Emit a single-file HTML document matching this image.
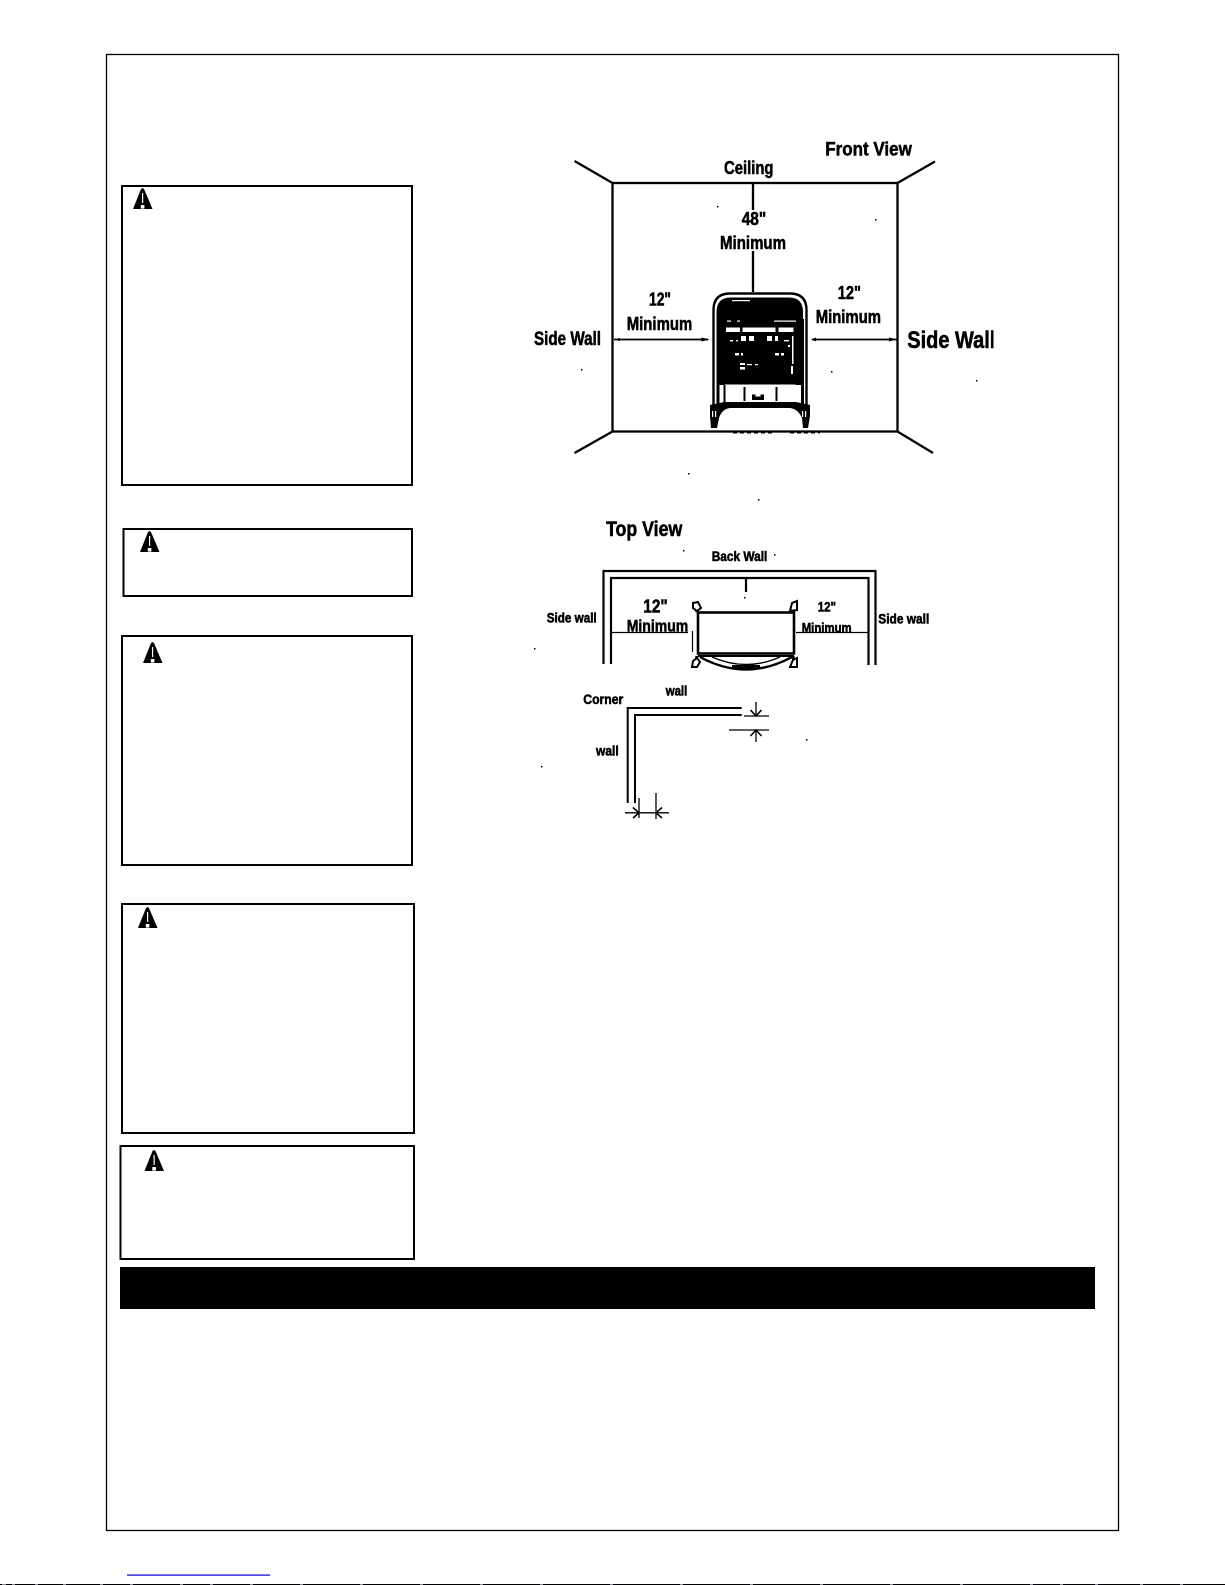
<!DOCTYPE html>
<html><head><meta charset="utf-8">
<style>
html,body{margin:0;padding:0;background:#fff;width:1225px;height:1585px;overflow:hidden}
svg{display:block}
text{font-family:"Liberation Sans",sans-serif;font-weight:bold;fill:#000;stroke:#000;stroke-width:.55px}
</style></head><body>
<svg xmlns="http://www.w3.org/2000/svg" width="1225" height="1585" viewBox="0 0 1225 1585">
<defs>
<clipPath id="cr"><rect x="900" y="320" width="93.5" height="40"/></clipPath>
<g id="warn"><path d="M9.5 0 L11 1 L19.5 21 L0 21 L8 1 Z" fill="#000"/><path d="M9 5 L10.200 5 L10.200 15 L9 15 Z" fill="#fff"/><rect x="7.800" y="17" width="3.600" height="3.600" fill="#fff"/></g>
</defs>
<rect width="1225" height="1585" fill="#fff"/>

<!-- page frame -->
<rect x="106.500" y="54.500" width="1012" height="1476" fill="none" stroke="#000" stroke-width="1.300"/>

<!-- warning boxes -->
<g fill="none" stroke="#000" stroke-width="2">
<rect x="122" y="186" width="290" height="299"/>
<rect x="123.500" y="529" width="288.500" height="67"/>
<rect x="122" y="636" width="290" height="229"/>
<rect x="122" y="904" width="292" height="229"/>
<rect x="120.500" y="1146" width="293.500" height="113"/>
</g>
<use href="#warn" x="133" y="188"/>
<use href="#warn" x="140" y="531"/>
<use href="#warn" x="143" y="642"/>
<use href="#warn" x="138" y="907"/>
<use href="#warn" x="144.500" y="1150"/>

<!-- black bar -->
<rect x="120" y="1267" width="975" height="42" fill="#000"/>

<!-- FRONT VIEW room -->
<g stroke="#000" fill="none" stroke-width="2.300">
<rect x="612.500" y="183" width="285" height="248.500"/>
<path d="M574.500 161 L612.500 183 M935 161.500 L897.500 183 M574.500 453 L612.500 431.500 M933 453 L897.500 431.500"/>
<path d="M753 183 V210 M753 251 V292"/>
<path d="M614 339.500 H708 M812 339.500 H897" stroke-width="1.800"/>
</g>
<path d="M614 339.500 l6 -1.500 v3z M709.500 339.500 l-8 -2 v4z M811 339.500 l5 -2 v4z M897 339.500 l-8 -2 v4z" fill="#000"/>
<text x="825.300" y="155.300" font-size="19.500" textLength="86.500" lengthAdjust="spacingAndGlyphs">Front View</text>
<text x="724" y="174" font-size="18.500" textLength="49.500" lengthAdjust="spacingAndGlyphs">Ceiling</text>
<text x="741.700" y="225" font-size="18" textLength="24.500" lengthAdjust="spacingAndGlyphs">48"</text>
<text x="720" y="249" font-size="18.500" textLength="66" lengthAdjust="spacingAndGlyphs">Minimum</text>
<text x="649" y="305.700" font-size="18" textLength="22" lengthAdjust="spacingAndGlyphs">12"</text>
<text x="626.700" y="330" font-size="18.500" textLength="65.600" lengthAdjust="spacingAndGlyphs">Minimum</text>
<text x="837.700" y="299" font-size="18" textLength="23.300" lengthAdjust="spacingAndGlyphs">12"</text>
<text x="815.700" y="323" font-size="18.500" textLength="65.300" lengthAdjust="spacingAndGlyphs">Minimum</text>
<text x="534" y="345" font-size="19" textLength="67" lengthAdjust="spacingAndGlyphs">Side Wall</text>
<g clip-path="url(#cr)"><text x="907.300" y="348" font-size="24" textLength="88" lengthAdjust="spacingAndGlyphs">Side Wall</text></g>

<!-- stove front -->
<g>
<path d="M713.500 412 V310 Q713.500 293.500 730 293.500 H790 Q806.500 293.500 806.500 310 V412" fill="#fff" stroke="#000" stroke-width="2.400"/>
<path d="M716.500 312 Q716.500 297.500 731 297.500 H789 Q803 297.500 803 312 V385 H716.500 Z" fill="#000"/>
<path d="M718 319 V404 M802.500 319 V404" stroke="#000" stroke-width="3" fill="none"/>
<path d="M719 312 V404 M801 312 V404" stroke="none"/>
<!-- control details -->
<g fill="#fff">
<rect x="726" y="327.500" width="14" height="4.500"/><rect x="742.500" y="327.500" width="33" height="4.500"/><rect x="778.500" y="327.500" width="15" height="4.500"/>
<rect x="732" y="300" width="18" height="1.200"/><rect x="727" y="320.500" width="4" height="1.200"/><rect x="737" y="320.500" width="3" height="1.200"/><rect x="774" y="320.500" width="22" height="1.200"/>
<rect x="730" y="340" width="3" height="1.400"/><rect x="736" y="340" width="2" height="1.400"/><rect x="741" y="336" width="5" height="5"/><rect x="749" y="336" width="5" height="5"/><rect x="767" y="336" width="5" height="5"/><rect x="775" y="336" width="3" height="5"/><rect x="784" y="340" width="5" height="1.400"/><rect x="792" y="336" width="1.500" height="28"/>
<rect x="735" y="353" width="4" height="2.500"/><rect x="741" y="353" width="2" height="2.500"/><rect x="775" y="353" width="4" height="2.500"/><rect x="781" y="353" width="3" height="2.500"/><rect x="788" y="345" width="2" height="2"/>
<rect x="740" y="363" width="5" height="2"/><rect x="740" y="367" width="5" height="2.500"/><rect x="747" y="364" width="5" height="1.200"/><rect x="755" y="364" width="3" height="1.200"/><rect x="791" y="366" width="2" height="8"/>
<rect x="724.500" y="384.500" width="71" height="2"/>
<rect x="725" y="387.500" width="18.500" height="15"/><rect x="745" y="388.500" width="31" height="11"/><rect x="777.500" y="387.500" width="18.500" height="13.500"/>
</g>
<path d="M723.500 385 h2 v18 h-2z M743.500 387 h2 v14 h-2z M775.500 387 h2 v14 h-2z" fill="#000"/>
<path d="M752 400 V394.500 h3.500 v2 h5 v-2 h3.500 v5.500z" fill="#000"/>
<!-- base and legs -->
<path d="M710 405 L724 402 H796 L810 405 V416 L808 428 H803 L802 418 Q798 409 790 408 H730 Q722 409 719 418 L717 428 H711 L710 416 Z" fill="#000"/>
<path d="M712 411 h1.200 v6 h-1.200z M715 411 h1.200 v6 h-1.200z M802 411 h1.200 v6 h-1.200z M805 411 h1.200 v6 h-1.200z" fill="#fff"/>
<path d="M733 433 h40 M790 433 h30" stroke="#000" stroke-width="1" stroke-dasharray="4 3"/>
</g>

<!-- TOP VIEW -->
<g fill="none" stroke="#000" stroke-width="2.200">
<path d="M603.500 664 V571 H875.500 V665"/>
<path d="M611 664 V578 H868.500 V665"/>
<path d="M746 578 V592"/>
<path d="M611 632.500 H688 M796 632.500 H868.500" stroke-width="1.300"/>
</g>
<text x="606" y="536" font-size="21" textLength="76.300" lengthAdjust="spacingAndGlyphs">Top View</text>
<text x="711.700" y="561" font-size="14" textLength="55.600" lengthAdjust="spacingAndGlyphs">Back Wall</text>
<text x="546.700" y="622.300" font-size="14" textLength="50" lengthAdjust="spacingAndGlyphs">Side wall</text>
<text x="878.300" y="623.300" font-size="14" textLength="51" lengthAdjust="spacingAndGlyphs">Side wall</text>
<text x="643.300" y="612.700" font-size="18" textLength="24.400" lengthAdjust="spacingAndGlyphs">12"</text>
<text x="626.700" y="631.700" font-size="17" textLength="61.600" lengthAdjust="spacingAndGlyphs">Minimum</text>
<text x="817.700" y="611.700" font-size="14" textLength="18.300" lengthAdjust="spacingAndGlyphs">12"</text>
<text x="801.700" y="632.300" font-size="14" textLength="50" lengthAdjust="spacingAndGlyphs">Minimum</text>

<!-- stove top view -->
<g fill="none" stroke="#000">
<rect x="698" y="612.500" width="96" height="41" stroke-width="2.600" fill="#fff"/>
<path d="M692.500 631 V652" stroke-width="1.200"/>
<path d="M698 656 H794" stroke-width="2"/>
<path d="M700 657 Q746 682 792 657" stroke-width="2.400"/>
<path d="M712 657 Q746 672 780 657" stroke-width="1.400"/>
<path d="M697 612 L695 604 M793 612 L795 604 M697 656 L695 665 M793 656 L794 665" stroke-width="3"/>
</g>
<path d="M693 603 l5 -1 l3 6 l-4 3 l-4 -3z M790 611 l2 -8 l5 -2 l0 9z M693 661 l4 -3 l3 4 l-3 5 l-5 0z M790 667 l3 -7 l4 -2 l0 9z" fill="#fff" stroke="#000" stroke-width="2"/>
<path d="M732 665 h28 v4 h-28z" fill="#000"/>

<!-- corner detail -->
<g fill="none" stroke="#000" stroke-width="2">
<path d="M627.700 803 V708 H741.700" stroke-width="2"/>
<path d="M635 803 V715 H741.700" stroke-width="2"/>
<path d="M756 702 V716 M756 730 V742 M744 716 H769 M729 730 H769" stroke-width="1.300"/>
<path d="M639 798 V818 M656 793 V819 M625 812.800 H669" stroke-width="1.300"/>
<path d="M750.500 710 L756 716 L761.500 710 M750.500 736 L756 730 L761.500 736" stroke-width="1.600"/>
<path d="M633 807.500 L639 812.800 L633 818 M662 807.500 L656 812.800 L662 818" stroke-width="1.600"/>
</g>
<text x="583.300" y="704" font-size="14" textLength="40" lengthAdjust="spacingAndGlyphs">Corner</text>
<text x="665.700" y="695.700" font-size="14" textLength="21.600" lengthAdjust="spacingAndGlyphs">wall</text>
<text x="596" y="755.300" font-size="14" textLength="22.700" lengthAdjust="spacingAndGlyphs">wall</text>

<!-- specks -->
<g fill="#000">
<rect x="717" y="206" width="1.500" height="1.500"/><rect x="875" y="219" width="1.500" height="1.500"/>
<rect x="581" y="369" width="1.500" height="1.500"/><rect x="831" y="371" width="1.500" height="1.500"/><rect x="976" y="380" width="1.500" height="1.500"/>
<rect x="688" y="473" width="1.500" height="1.500"/><rect x="758" y="499" width="1.500" height="1.500"/>
<rect x="683" y="550" width="1.500" height="1.500"/><rect x="774" y="554" width="1.500" height="1.500"/><rect x="744" y="597" width="1.500" height="1.500"/>
<rect x="534" y="648" width="1.500" height="1.500"/><rect x="541" y="766" width="1.500" height="1.500"/><rect x="806" y="739" width="1.500" height="1.500"/>
</g>

<!-- bottom artifacts -->
<rect x="127" y="1574.500" width="143" height="1.200" fill="#0000e0"/>
<rect x="0" y="1584" width="1225" height="1" fill="#000"/>
<path d="M2 1584.500 h4 M12 1584.500 h3 M35 1584.500 h3 M63 1584.500 h3 M100 1584.500 h3 M130 1584.500 h3 M180 1584.500 h3 M210 1584.500 h3 M250 1584.500 h3 M300 1584.500 h3 M360 1584.500 h3 M420 1584.500 h3 M480 1584.500 h3 M540 1584.500 h3 M610 1584.500 h3 M680 1584.500 h3 M750 1584.500 h3 M820 1584.500 h3 M890 1584.500 h3 M960 1584.500 h3 M1030 1584.500 h3 M1060 1584.500 h3 M1095 1584.500 h3 M1140 1584.500 h3 M1180 1584.500 h3" stroke="#8a8a9a" stroke-width="1"/>
</svg>
</body></html>
